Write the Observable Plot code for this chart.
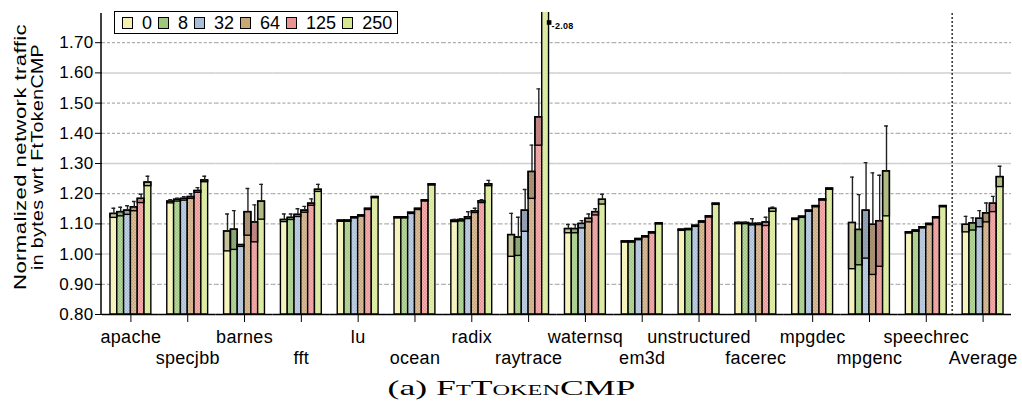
<!DOCTYPE html>
<html><head><meta charset="utf-8">
<script src="https://cdn.jsdelivr.net/npm/d3@7"></script>
<script src="https://cdn.jsdelivr.net/npm/@observablehq/plot@0.6"></script>
<style>
body{margin:0;background:#fff;font-family:"Liberation Sans",Arial,sans-serif;}
#wrap{position:relative;width:1022px;height:410px;overflow:hidden}
#legend{position:absolute;left:114px;top:11px;height:21px;border:1.5px solid #000;display:flex;align-items:center;padding:0 5px 0 7px;font-size:18px;background:#fff;line-height:1}
.sw{width:9px;height:10px;border:1px solid #000;margin-right:9px;flex:none}
.lab{margin-right:6px}
.lab:last-child{margin-right:0}
#caption{position:absolute;left:0;top:371px;width:1022px;text-align:center;font-family:"Liberation Serif","DejaVu Serif",serif;font-size:22px;line-height:34px}
#caption span.inner{display:inline-block;transform:scaleX(1.62);transform-origin:center}
</style></head><body>
<div id="wrap"><div id="chart"></div><div id="legend"></div><div id="caption"><span class="inner">(a) <span style="font-variant:small-caps">FtTokenCMP</span></span></div></div>
<script>
const groups = ["apache","specjbb","barnes","fft","lu","ocean","radix","raytrace","waternsq","em3d","unstructured","facerec","mpgdec","mpgenc","speechrec","Average"];
const series = ["0","8","32","64","125","250"];
const colors = ["#f4f0b2","#9ec77e","#a9bdd6","#c9a57a","#ea9393","#d6e792"];
// top of each bar (mean)
const barTop = [
  [1.133,1.139,1.144,1.155,1.183,1.237],
  [1.174,1.180,1.183,1.189,1.209,1.244],
  [1.075,1.081,1.030,1.139,1.105,1.174],
  [1.113,1.120,1.130,1.144,1.167,1.213],
  [1.111,1.111,1.122,1.128,1.150,1.189],
  [1.122,1.122,1.137,1.150,1.178,1.231],
  [1.111,1.113,1.122,1.142,1.175,1.231],
  [1.063,1.055,1.144,1.272,1.453,2.080],
  [1.083,1.083,1.100,1.117,1.139,1.180],
  [1.042,1.042,1.050,1.059,1.072,1.102],
  [1.081,1.083,1.094,1.108,1.125,1.167],
  [1.103,1.103,1.100,1.100,1.105,1.150],
  [1.117,1.124,1.144,1.159,1.181,1.217],
  [1.103,1.080,1.144,1.097,1.109,1.274],
  [1.072,1.078,1.089,1.100,1.122,1.159],
  [1.097,1.102,1.117,1.135,1.167,1.255]
];
// lower edge of the confidence box
const boxLow = [
  [1.120,1.125,1.130,1.142,1.169,1.225],
  [1.168,1.174,1.177,1.183,1.203,1.238],
  [1.009,1.014,1.024,1.061,1.039,1.114],
  [1.106,1.113,1.123,1.137,1.160,1.206],
  [1.107,1.107,1.118,1.124,1.146,1.185],
  [1.118,1.118,1.133,1.146,1.174,1.227],
  [1.106,1.108,1.116,1.136,1.169,1.225],
  [0.991,0.994,1.074,1.183,1.359,2.070],
  [1.069,1.069,1.085,1.105,1.128,1.164],
  [1.038,1.038,1.046,1.055,1.068,1.098],
  [1.077,1.079,1.090,1.104,1.121,1.163],
  [1.099,1.099,1.095,1.096,1.093,1.140],
  [1.113,1.120,1.140,1.155,1.177,1.213],
  [0.950,0.963,0.985,0.931,0.958,1.125],
  [1.068,1.074,1.085,1.096,1.118,1.155],
  [1.072,1.078,1.089,1.105,1.139,1.222]
];
// top of the whisker
const whiskerTop = [
  [1.152,1.155,1.160,1.174,1.198,1.258],
  [1.180,1.185,1.190,1.200,1.220,1.258],
  [1.133,1.144,1.030,1.217,1.163,1.231],
  [1.133,1.133,1.150,1.158,1.183,1.231],
  [1.111,1.111,1.122,1.128,1.150,1.189],
  [1.122,1.122,1.137,1.150,1.178,1.231],
  [1.115,1.117,1.140,1.152,1.180,1.244],
  [1.135,1.122,1.214,1.361,1.547,2.080],
  [1.098,1.098,1.111,1.133,1.150,1.198],
  [1.042,1.042,1.050,1.059,1.072,1.102],
  [1.081,1.083,1.094,1.108,1.125,1.167],
  [1.106,1.106,1.117,1.103,1.122,1.155],
  [1.117,1.124,1.144,1.159,1.181,1.217],
  [1.255,1.197,1.303,1.269,1.261,1.424],
  [1.072,1.078,1.089,1.100,1.122,1.159],
  [1.125,1.120,1.144,1.169,1.191,1.291]
];
const yDomain = [0.8, 1.8];
const yTicks = [0.8,0.9,1.0,1.1,1.2,1.3,1.4,1.5,1.6,1.7];
const gridDashed = [0.9,1.1,1.2,1.4,1.5,1.7];
const gridSolid = [1.0,1.3,1.6];
const overflow = [{group:"raytrace", series:"250", label:"2.08"}];
const yLabel = ["Normalized network traffic","in bytes wrt FtTokenCMP"];

const patternId = i => `hatch${i}`;
const rows = [];
groups.forEach((g, gi) => series.forEach((s, si) => rows.push({
  group: g, series: s, fill: `url(#${patternId(si)})`,
  top: barTop[gi][si], low: boxLow[gi][si], whisk: whiskerTop[gi][si]
})));
const withWhisker = rows.filter(d => d.whisk > d.top + 0.002);

const chart = Plot.plot({
  width: 1022, height: 372,
  marginLeft: 102, marginRight: 11, marginTop: 12, marginBottom: 58,
  style: {fontFamily: "'Liberation Sans', Arial, sans-serif", fontSize: "17px", background: "transparent", color: "#000"},
  fx: {domain: groups, padding: 0, round: false, label: null, axis: null},
  x: {domain: series, paddingInner: 0, paddingOuter: 1.17, round: false, axis: null},
  y: {domain: yDomain, axis: null},
  color: {type: "identity"},
  marks: [
    Plot.ruleY(gridDashed, {stroke: "#9a9a9a", strokeDasharray: "3,2"}),
    Plot.ruleY(gridSolid, {stroke: "#cfcfcf", strokeWidth: 1.5}),
    Plot.barY(rows, {fx: "group", x: "series", y1: () => yDomain[0], y2: "top", fill: "fill", stroke: "#000", strokeWidth: 1.4, clip: true}),
    Plot.barY(rows, {fx: "group", x: "series", y1: "low", y2: "top", fill: "#000", fillOpacity: 0.2, stroke: "#000", strokeWidth: 1.4, clip: true}),
    Plot.ruleX(withWhisker, {fx: "group", x: "series", y1: "top", y2: "whisk", stroke: "#222", strokeWidth: 1.4, clip: true}),
    Plot.tickY(withWhisker, {fx: "group", x: "series", y: "whisk", stroke: "#222", strokeWidth: 1.4, insetLeft: 1.5, insetRight: 1.5, clip: true}),
    Plot.ruleY([yDomain[0]], {stroke: "#000", strokeWidth: 1.5}),
    Plot.dot(overflow, {fx: "group", x: "series", frameAnchor: "top", dy: 10, dx: 3.5, symbol: "square", r: 2.6, fill: "#000"}),
    Plot.text(overflow, {fx: "group", x: "series", frameAnchor: "top", dy: 10, dx: 6, text: d => "-" + d.label, textAnchor: "start", fontSize: 9, fontWeight: "bold"}),
    Plot.axisY({ticks: yTicks, tickFormat: d => d.toFixed(2), tickSize: 7, tickPadding: 2, label: null, fontSize: 17}),
    Plot.axisFx({anchor: "bottom", tickSize: 8, tickPadding: 5, label: null, fontSize: 18, lineHeight: 1.2,
      tickFormat: d => groups.indexOf(d) % 2 ? "\n" + d : d})
  ]
});
chart.style.letterSpacing = "0.3px";
document.getElementById("chart").appendChild(chart);

const svg = d3.select(chart);
// crosshatch fills for the bars
const defs = svg.insert("defs", ":first-child");
colors.forEach((c, i) => {
  const p = defs.append("pattern").attr("id", patternId(i)).attr("patternUnits", "userSpaceOnUse")
    .attr("width", 3).attr("height", 3);
  p.append("rect").attr("width", 3).attr("height", 3).attr("fill", c);
  p.append("path").attr("d", "M0,0L3,3M3,0L0,3").attr("stroke", "#fff").attr("stroke-opacity", 0.35).attr("stroke-width", 0.7);
});

// axis line, separator and y label drawn from the chart's own scales
const fx = chart.scale("fx"), y = chart.scale("y");
const left = fx.range[0] - 1;
svg.append("line").attr("x1", left).attr("x2", left).attr("y1", y.apply(yDomain[1]) + 1).attr("y2", y.apply(yDomain[0]))
  .attr("stroke", "#000").attr("stroke-width", 1.5);
const sepX = fx.apply("Average") - 2;
svg.append("line").attr("x1", sepX).attr("x2", sepX).attr("y1", y.apply(yDomain[1]) + 1).attr("y2", y.apply(yDomain[0]))
  .attr("stroke", "#333").attr("stroke-width", 1.5).attr("stroke-dasharray", "2,2");
const cy = (y.apply(yDomain[0]) + y.apply(yDomain[1])) / 2 - 6;
const labelLengths = [266, 226];
yLabel.forEach((t, i) => {
  svg.append("text").attr("transform", `translate(${22 + i * 17},${cy}) rotate(-90)`)
    .attr("text-anchor", "middle").attr("dominant-baseline", "middle")
    .attr("textLength", labelLengths[i]).attr("lengthAdjust", "spacingAndGlyphs")
    .attr("font-size", 16).attr("font-family", "'Liberation Sans', Arial, sans-serif").text(t);
});

// legend
const legend = d3.select("#legend");
series.forEach((s, i) => {
  legend.append("div").attr("class", "sw").style("background", colors[i]);
  legend.append("div").attr("class", "lab").text(s);
});
</script>
</body></html>
